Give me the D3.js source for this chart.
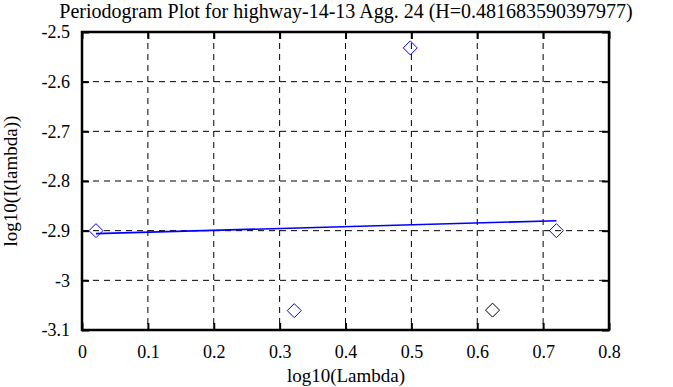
<!DOCTYPE html>
<head>
    <title>Periodogram</title>
    <script src="https://cdn.jsdelivr.net/npm/d3@7"></script>
    <style>
        body { margin: 0; background: white; }
    </style>
</head>
<body>
<div id="container"></div>
<script>
// Dimensions
const width = 673;
const height = 387;
const marginTop = 32;
const marginRight = 64;
const marginBottom = 57;
const marginLeft = 82;
const serif = "'Liberation Serif', 'Times New Roman', serif";

// Données
const logLambda = [0.0212, 0.3222, 0.4983, 0.6232, 0.7202];
const logI = [-2.900, -3.061, -2.532, -3.060, -2.900];
const pointColors = ["blue", "blue", "blue", "black", "blue"];
const fitX = [0.0212, 0.7202];
const fitY = [-2.906, -2.880];
const xTicks = [0, 0.1, 0.2, 0.3, 0.4, 0.5, 0.6, 0.7, 0.8];
const yTicks = [-3.1, -3, -2.9, -2.8, -2.7, -2.6, -2.5];

const svg = d3.create("svg")
    .attr("width", width)
    .attr("height", height);

const x = d3.scaleLinear().domain([0, 0.8]).range([marginLeft, width - marginRight]);
const y = d3.scaleLinear().domain([-3.1, -2.5]).range([height - marginBottom, marginTop]);

// Grille pointillée
svg.append("g")
    .selectAll("line")
    .data(xTicks.slice(1, -1))
    .enter().append("line")
    .attr("x1", d => x(d)).attr("x2", d => x(d))
    .attr("y1", y(-2.5)).attr("y2", y(-3.1))
    .attr("stroke", "black")
    .attr("stroke-dasharray", "6,5");

svg.append("g")
    .selectAll("line")
    .data(yTicks.slice(1, -1))
    .enter().append("line")
    .attr("y1", d => y(d)).attr("y2", d => y(d))
    .attr("x1", x(0)).attr("x2", x(0.8))
    .attr("stroke", "black")
    .attr("stroke-dasharray", "6,5");

// Axes (ticks vers l'intérieur)
const fmt = d => String(+d.toFixed(1));
svg.append("g")
    .attr("transform", `translate(0,${y(-3.1)})`)
    .call(d3.axisBottom(x).tickValues(xTicks).tickSizeInner(-7).tickSizeOuter(0).tickPadding(15).tickFormat(fmt))
    .call(g => g.select(".domain").remove())
    .call(g => g.selectAll("line").attr("stroke-width", 2))
    .call(g => g.selectAll("text").style("font-size", "18px").style("font-family", serif));

svg.append("g")
    .attr("transform", `translate(0,${y(-2.5)})`)
    .call(d3.axisTop(x).tickValues(xTicks).tickSizeInner(-7).tickSizeOuter(0).tickFormat(""))
    .call(g => g.select(".domain").remove())
    .call(g => g.selectAll("line").attr("stroke-width", 2));

svg.append("g")
    .attr("transform", `translate(${x(0)},0)`)
    .call(d3.axisLeft(y).tickValues(yTicks).tickSizeInner(-7).tickSizeOuter(0).tickPadding(12).tickFormat(fmt))
    .call(g => g.select(".domain").remove())
    .call(g => g.selectAll("line").attr("stroke-width", 2))
    .call(g => g.selectAll("text").style("font-size", "18px").style("font-family", serif));

svg.append("g")
    .attr("transform", `translate(${x(0.8)},0)`)
    .call(d3.axisRight(y).tickValues(yTicks).tickSizeInner(-7).tickSizeOuter(0).tickFormat(""))
    .call(g => g.select(".domain").remove())
    .call(g => g.selectAll("line").attr("stroke-width", 2));

// Cadre
svg.append("rect")
    .attr("x", x(0)).attr("y", y(-2.5))
    .attr("width", x(0.8) - x(0))
    .attr("height", y(-3.1) - y(-2.5))
    .attr("fill", "none")
    .attr("stroke", "black")
    .attr("stroke-width", 2.5);

// Droite de régression
svg.append("line")
    .attr("x1", x(fitX[0])).attr("y1", y(fitY[0]))
    .attr("x2", x(fitX[1])).attr("y2", y(fitY[1]))
    .attr("stroke", "blue")
    .attr("stroke-width", 1.6);

// Points (losanges)
svg.append("g")
    .selectAll("path")
    .data(logLambda)
    .enter().append("path")
    .attr("d", (d, i) => {
        const cx = x(d), cy = y(logI[i]), r = 7;
        return `M${cx},${cy - r}L${cx + r},${cy}L${cx},${cy + r}L${cx - r},${cy}Z`;
    })
    .attr("fill", "none")
    .attr("stroke", (d, i) => pointColors[i])
    .attr("stroke-width", 1);

// Titres
svg.append("text")
    .attr("x", 346).attr("y", 18)
    .attr("text-anchor", "middle")
    .style("font-size", "20px").style("font-family", serif)
    .text("Periodogram Plot for highway-14-13 Agg. 24 (H=0.481683590397977)");

svg.append("text")
    .attr("x", 346).attr("y", 382)
    .attr("text-anchor", "middle")
    .style("font-size", "19px").style("font-family", serif)
    .text("log10(Lambda)");

svg.append("text")
    .attr("transform", "translate(17,181) rotate(-90)")
    .attr("text-anchor", "middle")
    .style("font-size", "19px").style("font-family", serif)
    .text("log10(I(lambda))");

container.append(svg.node());
</script>
</body>
